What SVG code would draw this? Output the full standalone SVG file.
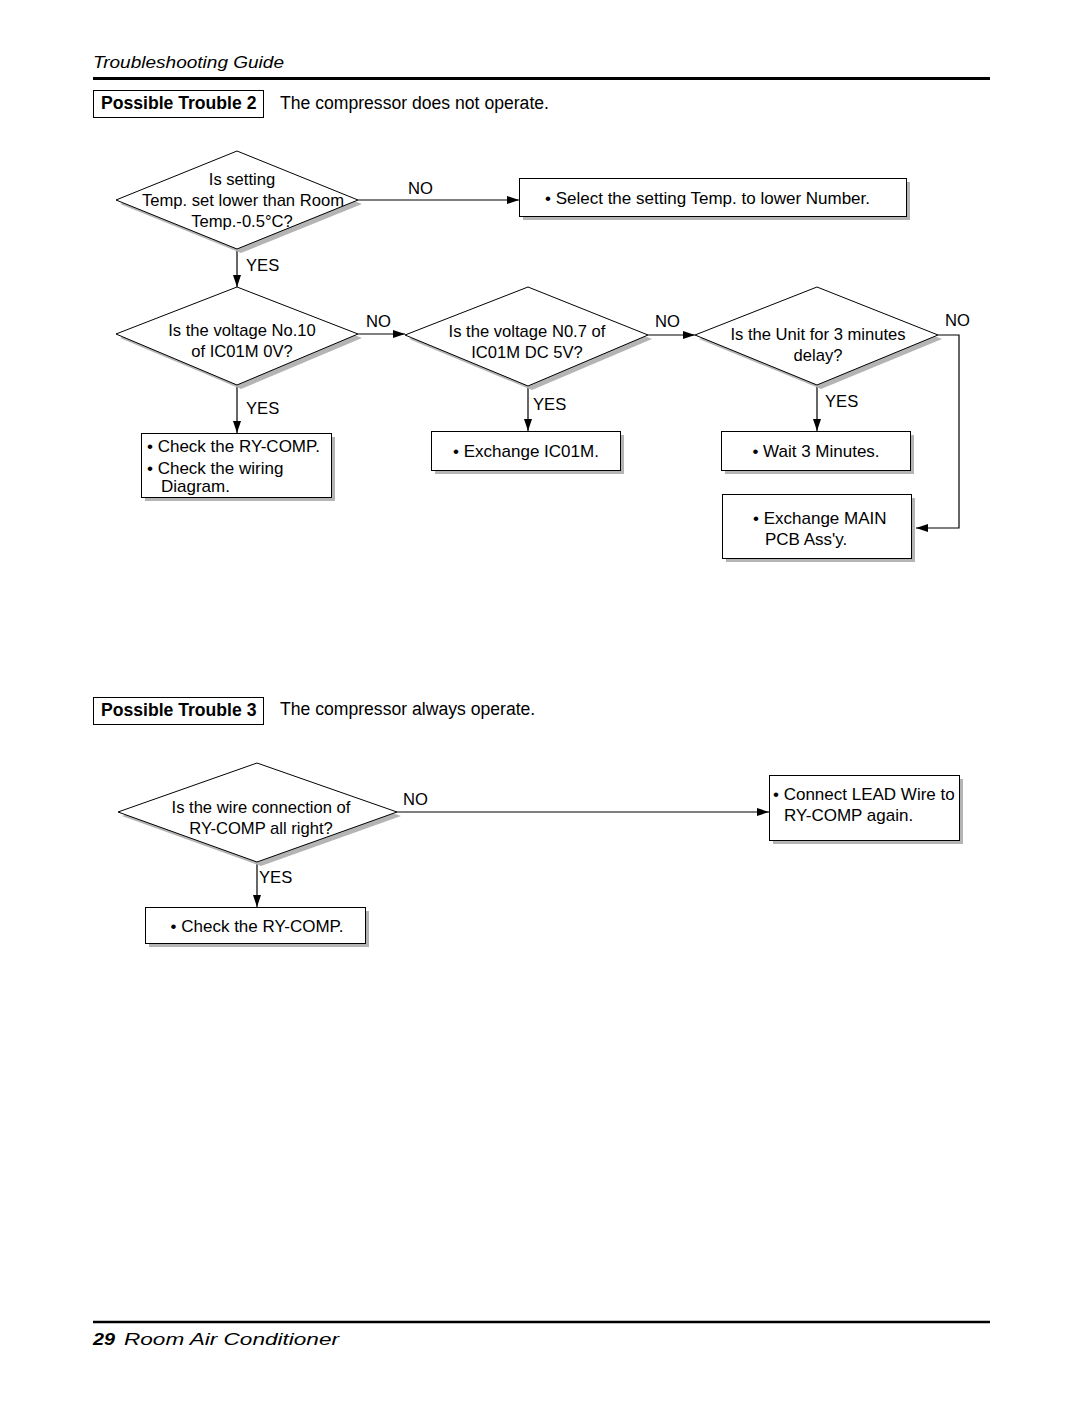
<svg xmlns="http://www.w3.org/2000/svg" width="1080" height="1405" viewBox="0 0 1080 1405">
<defs>
<marker id="ah" markerWidth="12" markerHeight="8" refX="12" refY="4" orient="auto" markerUnits="userSpaceOnUse">
<path d="M0,0 L12,4 L0,8 Z" fill="#000"/>
</marker>
<style>
text{font-family:"Liberation Sans",Arial,sans-serif;font-size:17px;fill:#000}
.c{text-anchor:middle}
.d{font-size:16.6px}
.h{font-size:17.6px}
.b{font-weight:bold}
.shape{fill:#fff;stroke:#000;stroke-width:1}
.shadow{fill:#b4b4b4;stroke:none}
.ln{fill:none;stroke:#000;stroke-width:1.2}
</style>
</defs>
<rect width="1080" height="1405" fill="#fff"/>

<!-- header -->
<text x="93" y="68" font-style="italic" font-size="23.5" textLength="191" lengthAdjust="spacingAndGlyphs">Troubleshooting Guide</text>
<line x1="93" y1="78.5" x2="990" y2="78.5" stroke="#000" stroke-width="3"/>

<g id="pt2">
<rect x="93.5" y="90.5" width="170" height="27" fill="#fff" stroke="#000"/>
<text x="101" y="109" class="b h">Possible Trouble 2</text>
<text x="280" y="109" class="h">The compressor does not operate.</text>
</g>

<!-- connectors -->
<g id="connectors">
<polyline class="ln" points="358,200 519,200" marker-end="url(#ah)"/>
<text x="408" y="194" class="d">NO</text>
<polyline class="ln" points="237,249 237,287" marker-end="url(#ah)"/>
<text x="246" y="271" class="d">YES</text>
<polyline class="ln" points="358,334 405,334" marker-end="url(#ah)"/>
<text x="366" y="327" class="d">NO</text>
<polyline class="ln" points="648,335 695,335" marker-end="url(#ah)"/>
<text x="655" y="327" class="d">NO</text>
<polyline class="ln" points="938,335 959,335 959,528 916,528" marker-end="url(#ah)"/>
<text x="945" y="326" class="d">NO</text>
<polyline class="ln" points="237,385 237,433" marker-end="url(#ah)"/>
<text x="246" y="414" class="d">YES</text>
<polyline class="ln" points="528,386 528,431" marker-end="url(#ah)"/>
<text x="533" y="410" class="d">YES</text>
<polyline class="ln" points="817,385 817,431" marker-end="url(#ah)"/>
<text x="825" y="407" class="d">YES</text>
<polyline class="ln" points="397,812 769,812" marker-end="url(#ah)"/>
<text x="403" y="805" class="d">NO</text>
<polyline class="ln" points="257,862 257,907" marker-end="url(#ah)"/>
<text x="259" y="883" class="d">YES</text>
</g>

<!-- Decision 1 -->
<g id="d1">
<polygon class="shadow" points="241,155 362,204 241,253 120,204"/>
<polygon class="shape" points="237,151 358,200 237,249 116,200"/>
<text x="242" y="185" class="c d">Is setting</text>
<text x="243" y="206" class="c d">Temp. set lower  than Room</text>
<text x="242" y="227" class="c d">Temp.-0.5°C?</text>
</g>

<g id="b1">
<rect class="shadow" x="523" y="182" width="387" height="38"/>
<rect class="shape" x="519.5" y="178.5" width="387" height="38"/>
<text x="545" y="204">• Select the setting Temp. to lower Number.</text>
</g>

<g id="d2">
<polygon class="shadow" points="241,291 362,338 241,389 120,338"/>
<polygon class="shape" points="237,287 358,334 237,385 116,334"/>
<text x="242" y="336" class="c d">Is the voltage No.10</text>
<text x="242" y="357" class="c d">of IC01M 0V?</text>
</g>

<g id="d3">
<polygon class="shadow" points="532,291 652,339 532,390 409,339"/>
<polygon class="shape" points="528,287 648,335 528,386 405,335"/>
<text x="527" y="337" class="c d">Is the voltage N0.7 of</text>
<text x="527" y="358" class="c d">IC01M DC 5V?</text>
</g>

<g id="d4">
<polygon class="shadow" points="821,291 942,339 821,389 699,339"/>
<polygon class="shape" points="817,287 938,335 817,385 695,335"/>
<text x="818" y="340" class="c d">Is the Unit for 3 minutes</text>
<text x="818" y="361" class="c d">delay?</text>
</g>

<g id="b2">
<rect class="shadow" x="145" y="437" width="190" height="64"/>
<rect class="shape" x="141.5" y="433.5" width="190" height="64"/>
<text x="147" y="452">• Check the RY-COMP.</text>
<text x="147" y="474">• Check the wiring</text>
<text x="161" y="492">Diagram.</text>
</g>

<g id="b3">
<rect class="shadow" x="435" y="435" width="189" height="39"/>
<rect class="shape" x="431.5" y="431.5" width="189" height="39"/>
<text x="526" y="457" class="c">• Exchange IC01M.</text>
</g>

<g id="b4">
<rect class="shadow" x="725" y="435" width="189" height="39"/>
<rect class="shape" x="721.5" y="431.5" width="189" height="39"/>
<text x="816" y="457" class="c">• Wait 3 Minutes.</text>
</g>

<g id="b5">
<rect class="shadow" x="726" y="498" width="189" height="64"/>
<rect class="shape" x="722.5" y="494.5" width="189" height="64"/>
<text x="753" y="524">• Exchange MAIN</text>
<text x="765" y="545">PCB Ass'y.</text>
</g>

<g id="pt3">
<rect x="93.5" y="697.5" width="170" height="27" fill="#fff" stroke="#000"/>
<text x="101" y="716" class="b h">Possible Trouble 3</text>
<text x="280" y="715" class="h">The compressor always operate.</text>
</g>

<g id="d5">
<polygon class="shadow" points="261,767 401,816 261,866 122,816"/>
<polygon class="shape" points="257,763 397,812 257,862 118,812"/>
<text x="261" y="813" class="c d">Is the wire connection of</text>
<text x="261" y="834" class="c d">RY-COMP all right?</text>
</g>

<g id="b6">
<rect class="shadow" x="149" y="911" width="220" height="36"/>
<rect class="shape" x="145.5" y="907.5" width="220" height="36"/>
<text x="257" y="932" class="c">• Check the RY-COMP.</text>
</g>

<g id="b7">
<rect class="shadow" x="773" y="779" width="190" height="65"/>
<rect class="shape" x="769.5" y="775.5" width="190" height="65"/>
<text x="773" y="800">• Connect LEAD Wire to</text>
<text x="784" y="821">RY-COMP again.</text>
</g>

<!-- footer -->
<line x1="93" y1="1322" x2="990" y2="1322" stroke="#000" stroke-width="2.5"/>
<text x="93" y="1345" font-size="23.5" font-weight="bold" font-style="italic" textLength="22" lengthAdjust="spacingAndGlyphs">29</text>
<text x="124" y="1345" font-size="23.5" font-style="italic" textLength="215" lengthAdjust="spacingAndGlyphs">Room Air Conditioner</text>
</svg>
